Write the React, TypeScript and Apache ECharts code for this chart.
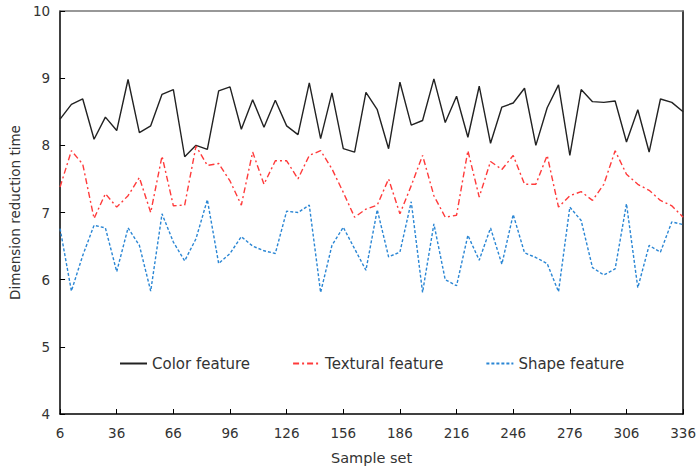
import React, { useEffect, useRef } from "react";
import * as echarts from "echarts";

const sampleSet = [
  6, 12, 18, 24, 30, 36, 42, 48, 54, 60, 66, 72, 78, 84, 90, 96, 102, 108, 114,
  120, 126, 132, 138, 144, 150, 156, 162, 168, 174, 180, 186, 192, 198, 204,
  210, 216, 222, 228, 234, 240, 246, 252, 258, 264, 270, 276, 282, 288, 294,
  300, 306, 312, 318, 324, 330, 336,
];

const colorFeature = [
  8.39, 8.61, 8.69, 8.09, 8.42, 8.22, 8.98, 8.19, 8.29, 8.76, 8.83, 7.83, 8.0,
  7.94, 8.81, 8.87, 8.24, 8.68, 8.27, 8.67, 8.29, 8.16, 8.93, 8.1, 8.78, 7.95,
  7.9, 8.79, 8.53, 7.95, 8.94, 8.3, 8.37, 8.99, 8.34, 8.73, 8.12, 8.88, 8.03,
  8.57, 8.63, 8.85, 8.0, 8.56, 8.9, 7.85, 8.83, 8.65, 8.64, 8.66, 8.05, 8.53,
  7.9, 8.69, 8.64, 8.5,
];

const texturalFeature = [
  7.38, 7.92, 7.72, 6.91, 7.28, 7.08, 7.25, 7.52, 7.0, 7.84, 7.1, 7.11, 7.99,
  7.7, 7.73, 7.47, 7.11, 7.9, 7.42, 7.77, 7.77, 7.5, 7.85, 7.92, 7.65, 7.3,
  6.93, 7.05, 7.11, 7.5, 6.98, 7.4, 7.85, 7.25, 6.93, 6.96, 7.92, 7.23, 7.76,
  7.64, 7.85, 7.42, 7.42, 7.85, 7.08, 7.25, 7.31, 7.18, 7.42, 7.92, 7.57, 7.42,
  7.33, 7.18, 7.1, 6.93,
];

const shapeFeature = [
  6.76, 5.83, 6.36, 6.81, 6.77, 6.12, 6.77, 6.51, 5.83, 6.98, 6.56, 6.28, 6.61,
  7.19, 6.24, 6.39, 6.64, 6.5, 6.43, 6.39, 7.02, 7.0, 7.11, 5.81, 6.51, 6.78,
  6.46, 6.14, 7.04, 6.34, 6.41, 7.16, 5.81, 6.83, 6.0, 5.91, 6.66, 6.29, 6.77,
  6.23, 6.97, 6.4, 6.33, 6.24, 5.82, 7.08, 6.88, 6.18, 6.07, 6.16, 7.13, 5.88,
  6.51, 6.41, 6.86, 6.82,
];

const seriesNames = ["Color feature", "Textural feature", "Shape feature"];
const xTitle = "Sample set";
const yTitle = "Dimension reduction time";

const FONT = "DejaVu Sans, Verdana, sans-serif";

export default function App() {
  const ref = useRef<HTMLDivElement>(null);

  useEffect(() => {
    if (!ref.current) return;
    const chart = echarts.init(ref.current, undefined, { renderer: "svg" });
    const pair = (ys: number[]) => sampleSet.map((x, i) => [x, ys[i]]);

    chart.setOption({
      animation: false,
      backgroundColor: "#ffffff",
      textStyle: { fontFamily: FONT },
      grid: { left: 60, right: 15, top: 11, bottom: 54, containLabel: false },
      legend: {
        left: 119,
        top: 356,
        padding: 0,
        itemWidth: 27,
        itemHeight: 14,
        itemGap: 42,
        itemStyle: { opacity: 0 },
        textStyle: { fontFamily: FONT, fontSize: 15, color: "#333" },
        data: seriesNames,
      },
      xAxis: [
        {
          type: "value",
          min: 6,
          max: 336,
          interval: 30,
          name: xTitle,
          nameLocation: "middle",
          nameGap: 36,
          nameTextStyle: { fontFamily: FONT, fontSize: 14.5, color: "#333" },
          axisLine: { lineStyle: { color: "#000", width: 1.5 } },
          axisTick: { inside: true, length: 5, lineStyle: { color: "#000" } },
          axisLabel: { margin: 12, fontFamily: FONT, fontSize: 13.5, color: "#333" },
          splitLine: { show: false },
        },
        {
          type: "value",
          position: "top",
          min: 6,
          max: 336,
          interval: 30,
          axisLine: { show: true, lineStyle: { color: "#777", width: 1.5 } },
          axisTick: { show: false },
          axisLabel: { show: false },
          splitLine: { show: false },
        },
      ],
      yAxis: [
        {
          type: "value",
          min: 4,
          max: 10,
          interval: 1,
          name: yTitle,
          nameLocation: "middle",
          nameGap: 30,
          nameTextStyle: { fontFamily: FONT, fontSize: 13.5, color: "#333" },
          axisLine: { show: true, lineStyle: { color: "#000", width: 1.5 } },
          axisTick: { show: true, inside: true, length: 5, lineStyle: { color: "#000" } },
          axisLabel: { margin: 10, fontFamily: FONT, fontSize: 13.5, color: "#333" },
          splitLine: { show: false },
        },
        {
          type: "value",
          position: "right",
          min: 4,
          max: 10,
          interval: 1,
          axisLine: { show: true, lineStyle: { color: "#000", width: 1.5 } },
          axisTick: { show: false },
          axisLabel: { show: false },
          splitLine: { show: false },
        },
      ],
      series: [
        {
          name: seriesNames[0],
          type: "line",
          symbol: "none",
          data: pair(colorFeature),
          lineStyle: { color: "#222", width: 1.4, type: "solid" },
          itemStyle: { color: "#222" },
        },
        {
          name: seriesNames[1],
          type: "line",
          symbol: "none",
          data: pair(texturalFeature),
          lineStyle: { color: "#ff3a3a", width: 1.4, type: [6, 3, 2, 3] },
          itemStyle: { color: "#ff3a3a" },
        },
        {
          name: seriesNames[2],
          type: "line",
          symbol: "none",
          data: pair(shapeFeature),
          lineStyle: { color: "#2a86d4", width: 1.4, type: [3, 2] },
          itemStyle: { color: "#2a86d4" },
        },
      ],
    });

    return () => chart.dispose();
  }, []);

  return (
    <div
      ref={ref}
      style={{ position: "fixed", left: 0, top: 0, width: 699, height: 470, background: "#fff" }}
    />
  );
}
